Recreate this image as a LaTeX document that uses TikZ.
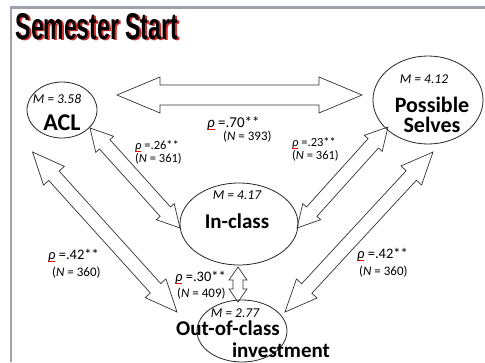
\documentclass[tikz,border=0pt]{standalone}
\usepackage{fontspec}
\setmainfont{Carlito}
\newfontfamily\titlefont{Liberation Sans}
\usetikzlibrary{calc,shapes.geometric}

\definecolor{framegray}{RGB}{158,162,172}
\definecolor{shadowred}{RGB}{205,45,45}

% red underlined rho, as in the slide
\newcommand{\rhou}{\textcolor{red}{\rlap{\rule[-2.2pt]{0.5em}{0.7pt}}}\textit{ρ}}
% squeezed title with its red shadow
\newcommand{\titlebox}{\resizebox{162pt}{26pt}{\titlefont\bfseries Semester Start}}
% double block arrow: from, to, shaft half width, head half width, head length
\newcommand{\dblarrow}[5]{%
  \draw[blockarrow] (#1)
    -- ($(#1)!#5!(#2)!#4!90:(#2)$) -- ($(#1)!#5!(#2)!#3!90:(#2)$)
    -- ($(#2)!#5!(#1)!#3!-90:(#1)$) -- ($(#2)!#5!(#1)!#4!-90:(#1)$) -- (#2)
    -- ($(#2)!#5!(#1)!#4!90:(#1)$) -- ($(#2)!#5!(#1)!#3!90:(#1)$)
    -- ($(#1)!#5!(#2)!#3!-90:(#2)$) -- ($(#1)!#5!(#2)!#4!-90:(#2)$) -- cycle;}

\tikzset{
  bubble/.style={draw=black!85, line width=0.8pt, ellipse, inner sep=0pt},
  blockarrow/.style={draw=black!80, fill=white, line width=0.7pt, line join=miter},
  meanlbl/.style={anchor=base, inner sep=0pt, font=\fontsize{13.5}{15}\selectfont\itshape},
  varlbl/.style={anchor=base, inner sep=0pt, font=\fontsize{21}{23}\selectfont\bfseries},
  corrlbl/.style={anchor=base west, inner sep=0pt, font=\fontsize{13}{15}\selectfont},
}

\begin{document}
\begin{tikzpicture}[x=1pt, y=-1pt]
    \useasboundingbox (0,0) rectangle (485,362);
    \draw[framegray, line width=2.5pt] (11,362) -- (11,7.5) -- (485,7.5);
    \node[anchor=base west, inner sep=0pt] (title) at (15.5,39)
        {\rlap{\kern2pt\raisebox{-1.5pt}{\textcolor{shadowred}{\titlebox}}}\titlebox};

    % arrow ends
    \coordinate (hzL) at (117,95);   \coordinate (hzR) at (362,95);
    \coordinate (aiA) at (90,128);   \coordinate (aiB) at (180,228);
    \coordinate (ipA) at (297,228);  \coordinate (ipB) at (388,127);
    \coordinate (aoA) at (32.5,152); \coordinate (aoB) at (177,312);
    \coordinate (poA) at (433,152);  \coordinate (poB) at (285,312);
    \coordinate (ioA) at (238,267);  \coordinate (ioB) at (238,302);
    \foreach \a/\b/\w/\W/\h in {hzL/hzR/10pt/18pt/43pt, aiA/aiB/7pt/12pt/22pt, ipA/ipB/7pt/12pt/22pt,
        aoA/aoB/7pt/14pt/32pt, poA/poB/7pt/14pt/32pt, ioA/ioB/5pt/9pt/13pt}
        \dblarrow{\a}{\b}{\w}{\W}{\h};

    % constructs
    \node[bubble, minimum width=70pt, minimum height=56pt] (acl) at (62,110) {};
    \node[bubble, minimum width=110pt, minimum height=88pt] (ps) at (428,100) {};
    \node[bubble, minimum width=118pt, minimum height=82pt] (ic) at (239,224) {};
    \node[bubble, minimum width=90pt, minimum height=62pt] (oc) at (242,331) {};

    \node[meanlbl] (aclm) at (57,103.5) {M = 3.58};
    \node[varlbl, font=\fontsize{24}{26}\selectfont\bfseries] (acln) at (62,130) {ACL};
    \node[meanlbl] (psm) at (424,83) {M = 4.12};
    \node[varlbl, font=\fontsize{22}{24}\selectfont\bfseries] (psn1) at (432,112) {Possible};
    \node[varlbl, font=\fontsize{22}{24}\selectfont\bfseries] (psn2) at (432,132) {Selves};
    \node[meanlbl] (icm) at (237,199) {M = 4.17};
    \node[varlbl] (icn) at (237,228) {In-class};
    \node[meanlbl] (ocm) at (235,317) {M = 2.77};
    \node[varlbl] (ocn1) at (228,335) {Out-of-class};
    \node[varlbl] (ocn2) at (281,357) {investment};

    % correlations
    \node[corrlbl, font=\fontsize{15}{17}\selectfont] (r70) at (207,127) {\rhou\ =.70**};
    \node[corrlbl] (n70) at (223,140) {(\textit{N} = 393)};
    \node[corrlbl, font=\fontsize{12.5}{15}\selectfont] (r26) at (135,149) {\rhou\ =.26**};
    \node[corrlbl, font=\fontsize{12.5}{15}\selectfont] (n26) at (135,162) {(\textit{N} = 361)};
    \node[corrlbl, font=\fontsize{12.5}{15}\selectfont] (r23) at (292,146) {\rhou\ =.23**};
    \node[corrlbl, font=\fontsize{12.5}{15}\selectfont] (n23) at (292,159) {(\textit{N} = 361)};
    \node[corrlbl, font=\fontsize{14.5}{16}\selectfont] (r42l) at (48,259) {\rhou\ =.42**};
    \node[corrlbl] (n42l) at (52,276) {(\textit{N} = 360)};
    \node[corrlbl, font=\fontsize{14.5}{16}\selectfont] (r42r) at (357,258) {\rhou\ =.42**};
    \node[corrlbl] (n42r) at (359,275) {(\textit{N} = 360)};
    \node[corrlbl, font=\fontsize{14.5}{16}\selectfont] (r30) at (175,281) {\rhou\ =.30**};
    \node[corrlbl] (n30) at (177,297) {(\textit{N} = 409)};
\end{tikzpicture}
\end{document}
